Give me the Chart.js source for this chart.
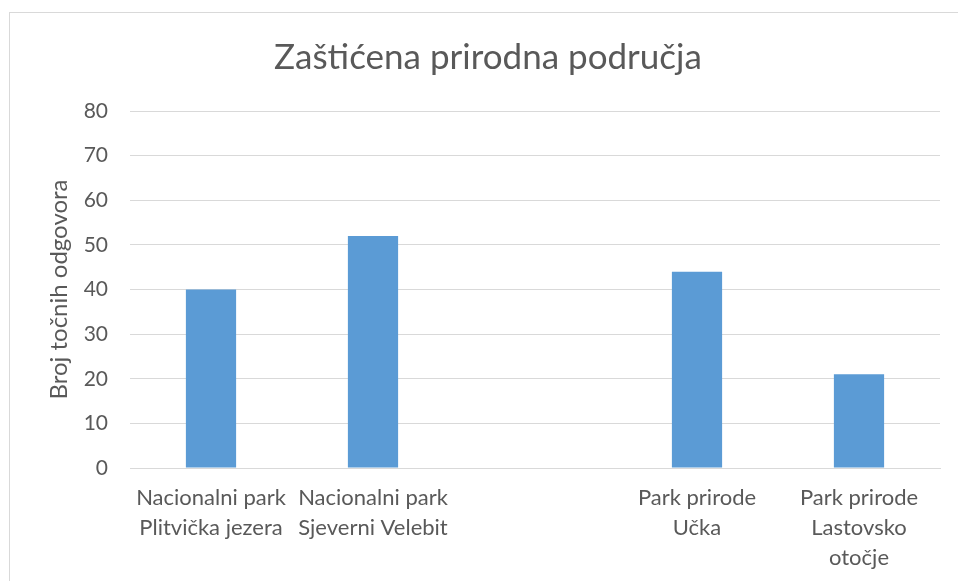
<!DOCTYPE html>
<html>
<head>
<meta charset="utf-8">
<script src="https://cdn.jsdelivr.net/npm/chart.js@4"></script>
<style>
  html, body { margin: 0; padding: 0; background: #fff; overflow: hidden; }
  #frame { position: absolute; left: 9px; top: 12px; width: 1000px; height: 600px; border: 1px solid #d9d9d9; }
  #wrap { position: absolute; left: 0; top: 0; width: 958px; height: 581px; }
</style>
</head>
<body>
<div id="frame"></div>
<div id="wrap"><canvas id="myChart"></canvas></div>
<script>
const categories = [
  ["Nacionalni park", "Plitvička jezera"],
  ["Nacionalni park", "Sjeverni Velebit"],
  "",
  ["Park prirode", "Učka"],
  ["Park prirode", "Lastovsko", "otočje"]
];
const correctAnswers = [40, 52, null, 44, 21];
const yTicks = [0, 10, 20, 30, 40, 50, 60, 70, 80];

document.addEventListener("DOMContentLoaded", function () {
  const ctx = document.getElementById("myChart");
  const textColor = "#595959";
  const fontFamily = "Lato, 'Open Sans', sans-serif";

  new Chart(ctx, {
    type: "bar",
    data: {
      labels: categories,
      datasets: [
        {
          label: "Broj točnih odgovora",
          data: correctAnswers,
          backgroundColor: "#5b9bd5",
          categoryPercentage: 1,
          barPercentage: 0.31,
        },
      ],
    },
    options: {
      responsive: true,
      maintainAspectRatio: false,
      animation: false,
      // left padding offsets the title so it sits centred like the original
      layout: { padding: { left: 36, right: 18, top: 0, bottom: 0 } },
      plugins: {
        legend: { display: false },
        tooltip: { enabled: false },
        title: {
          display: true,
          text: "Zaštićena prirodna područja",
          color: textColor,
          font: { family: fontFamily, size: 35, weight: "normal" },
          padding: { top: 37, bottom: 32 },
        },
      },
      scales: {
        x: {
          grid: { display: false, drawTicks: false },
          border: { color: "#d9d9d9", width: 1 },
          ticks: {
            color: textColor,
            font: { family: fontFamily, size: 22, lineHeight: 1.36 },
            padding: 15,
            maxRotation: 0,
            autoSkip: false,
          },
          afterFit: function (scale) { scale.height = 113; },
        },
        y: {
          min: 0,
          max: 80,
          afterBuildTicks: function (scale) {
            scale.ticks = yTicks.map(function (v) { return { value: v }; });
          },
          grid: { color: "#d9d9d9", drawTicks: false },
          border: { display: false },
          ticks: {
            color: textColor,
            font: { family: fontFamily, size: 21 },
            padding: 22,
          },
          title: {
            display: true,
            text: "Broj točnih odgovora",
            color: textColor,
            font: { family: fontFamily, size: 24 },
            padding: { top: 9, bottom: 0 },
          },
          afterFit: function (scale) { scale.width = 94; },
        },
      },
    },
  });
});
</script>
</body>
</html>
